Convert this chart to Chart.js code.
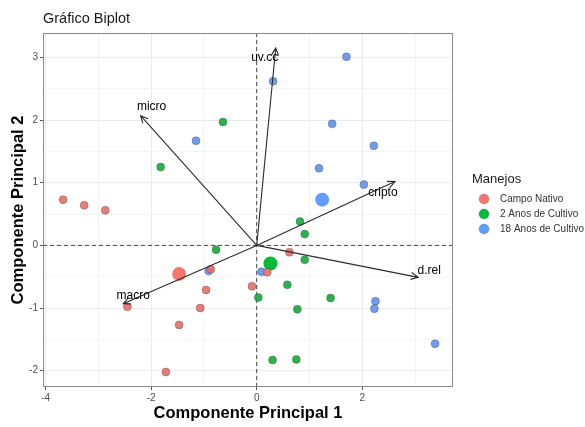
<!DOCTYPE html>
<html>
<head>
<meta charset="utf-8">
<script src="https://cdn.jsdelivr.net/npm/chart.js@4.4.1/dist/chart.umd.min.js"></script>
<style>
  html, body { margin: 0; padding: 0; background: #fff; }
  #wrap { width: 585px; height: 427px; }
</style>
</head>
<body>
<div id="wrap"><canvas id="biplot" width="585" height="427"></canvas></div>
<script>
// scores (PC1, PC2) per group
const campoX = [-3.67, -3.27, -2.87, -0.87, -0.96, -1.07, -1.47, -1.72, -2.45, -0.09, 0.62, 0.20];
const campoY = [0.73, 0.64, 0.56, -0.38, -0.71, -1.00, -1.27, -2.02, -0.98, -0.65, -0.11, -0.43];
const anos2X = [-0.64, -1.82, -0.77, 0.82, 0.91, 0.91, 0.58, 0.03, 1.40, 0.77, 0.30, 0.75];
const anos2Y = [1.97, 1.25, -0.07, 0.38, 0.18, -0.23, -0.63, -0.83, -0.84, -1.02, -1.83, -1.82];
const anos18X = [-1.15, 1.70, 0.31, 1.43, 2.22, 1.18, 2.03, -0.91, 0.09, 2.25, 2.23, 3.38];
const anos18Y = [1.67, 3.01, 2.62, 1.94, 1.59, 1.23, 0.97, -0.41, -0.42, -0.89, -1.01, -1.57];

// group centroids
const groups = ['Campo Nativo', '2 Anos de Cultivo', '18 Anos de Cultivo'];
const centroidX = [-1.47, 0.26, 1.24];
const centroidY = [-0.455, -0.29, 0.73];

// variable loadings (arrow tips)
const varNames = ['uv.cc', 'micro', 'cripto', 'd.rel', 'macro'];
const varX = [0.36, -2.20, 2.62, 3.06, -2.53];
const varY = [3.15, 2.07, 1.02, -0.51, -0.93];

const xTicks = [-4, -2, 0, 2];
const yTicks = [-2, -1, 0, 1, 2, 3];

const colors = ['#F8766D', '#00BA38', '#619CFF'];
const pointFill = ['rgba(230,110,104,0.9)', 'rgba(20,170,60,0.9)', 'rgba(95,145,235,0.9)'];
const font = '"Liberation Sans", Arial, sans-serif';

function toPoints(xs, ys) {
  return xs.map((x, i) => ({ x: x, y: ys[i] }));
}

const groupData = [toPoints(campoX, campoY), toPoints(anos2X, anos2Y), toPoints(anos18X, anos18Y)];

const datasets = [];
groupData.forEach((pts, g) => {
  datasets.push({
    label: groups[g],
    data: pts,
    backgroundColor: pointFill[g],
    borderColor: 'rgba(60,60,60,0.55)',
    borderWidth: 0.6,
    pointRadius: 4,
    pointHoverRadius: 4
  });
});
groups.forEach((name, g) => {
  datasets.push({
    label: name + ' (centroide)',
    data: [{ x: centroidX[g], y: centroidY[g] }],
    backgroundColor: colors[g],
    borderColor: colors[g],
    borderWidth: 0,
    pointRadius: 7,
    pointHoverRadius: 7
  });
});

// pixel offsets of the arrow labels from the tips
const labelOffset = [[-11, 10], [11, -9], [-12, 11], [11, -7], [10, -8]];

const biplotPlugin = {
  id: 'biplot',
  beforeDatasetsDraw(chart) {
    const { ctx, chartArea: a, scales: { x, y } } = chart;
    ctx.save();
    ctx.strokeStyle = '#444';
    ctx.lineWidth = 1;
    ctx.setLineDash([4, 3]);
    ctx.beginPath();
    ctx.moveTo(a.left, y.getPixelForValue(0));
    ctx.lineTo(a.right, y.getPixelForValue(0));
    ctx.moveTo(x.getPixelForValue(0), a.top);
    ctx.lineTo(x.getPixelForValue(0), a.bottom);
    ctx.stroke();
    ctx.restore();
  },
  afterDatasetsDraw(chart) {
    const { ctx, scales: { x, y } } = chart;
    const x0 = x.getPixelForValue(0), y0 = y.getPixelForValue(0);
    ctx.save();
    ctx.strokeStyle = '#2b2b2b';
    ctx.lineWidth = 1.1;
    varNames.forEach((name, i) => {
      const tx = x.getPixelForValue(varX[i]);
      const ty = y.getPixelForValue(varY[i]);
      const ang = Math.atan2(ty - y0, tx - x0);
      const h = 8;
      ctx.beginPath();
      ctx.moveTo(x0, y0);
      ctx.lineTo(tx, ty);
      ctx.moveTo(tx - h * Math.cos(ang - 0.45), ty - h * Math.sin(ang - 0.45));
      ctx.lineTo(tx, ty);
      ctx.lineTo(tx - h * Math.cos(ang + 0.45), ty - h * Math.sin(ang + 0.45));
      ctx.stroke();
      ctx.fillStyle = '#000';
      ctx.font = '12px ' + font;
      ctx.textAlign = 'center';
      ctx.textBaseline = 'middle';
      ctx.fillText(name, tx + labelOffset[i][0], ty + labelOffset[i][1]);
    });
    ctx.restore();
  },
  afterDraw(chart) {
    const { ctx, chartArea: a } = chart;
    ctx.save();
    ctx.strokeStyle = '#8a8a8a';
    ctx.lineWidth = 1;
    ctx.strokeRect(a.left + 0.5, a.top + 0.5, a.right - a.left - 1, a.bottom - a.top - 1);

    ctx.fillStyle = '#1a1a1a';
    ctx.font = '14.5px ' + font;
    ctx.textAlign = 'left';
    ctx.textBaseline = 'middle';
    ctx.fillText('Gráfico Biplot', a.left, 19);

    // legend
    ctx.font = '13px ' + font;
    ctx.fillText('Manejos', 472, 179);
    ctx.font = '10px ' + font;
    groups.forEach((name, g) => {
      const cy = 199 + g * 15;
      ctx.beginPath();
      ctx.arc(484, cy, 5, 0, Math.PI * 2);
      ctx.fillStyle = colors[g];
      ctx.fill();
      ctx.strokeStyle = 'rgba(60,60,60,0.35)';
      ctx.lineWidth = 0.6;
      ctx.stroke();
      ctx.fillStyle = '#333';
      ctx.fillText(name, 500, cy);
    });
    ctx.restore();
  }
};

const minorX = [-3, -1, 1, 3];
const minorY = [-1.5, -0.5, 0.5, 1.5, 2.5];

new Chart(document.getElementById('biplot'), {
  type: 'scatter',
  data: { datasets: datasets },
  plugins: [biplotPlugin],
  options: {
    responsive: false,
    animation: false,
    layout: { padding: { top: 33, right: 132, left: 0, bottom: 0 } },
    plugins: { legend: { display: false }, tooltip: { enabled: false } },
    scales: {
      x: {
        type: 'linear',
        min: -4.05,
        max: 3.72,
        afterBuildTicks: s => { s.ticks = xTicks.concat(minorX).sort((a, b) => a - b).map(v => ({ value: v })); },
        afterFit: s => { s.height = 40; },
        border: { display: false },
        grid: {
          color: c => (xTicks.includes(c.tick.value) ? '#ebebeb' : '#f4f4f4'),
          tickColor: c => (xTicks.includes(c.tick.value) ? '#555' : 'rgba(0,0,0,0)'),
          tickLength: 3
        },
        ticks: {
          color: '#4d4d4d',
          font: { family: font, size: 10 },
          padding: 2,
          maxRotation: 0,
          callback: v => (xTicks.includes(v) ? String(v) : '')
        },
        title: {
          display: true,
          text: 'Componente Principal 1',
          color: '#000',
          font: { family: font, size: 16.5, weight: 'bold' },
          padding: { top: 0, bottom: 4 }
        }
      },
      y: {
        type: 'linear',
        min: -2.26,
        max: 3.39,
        afterBuildTicks: s => { s.ticks = yTicks.concat(minorY).sort((a, b) => a - b).map(v => ({ value: v })); },
        afterFit: s => { s.width = 43; },
        border: { display: false },
        grid: {
          color: c => (yTicks.includes(c.tick.value) ? '#ebebeb' : '#f4f4f4'),
          tickColor: c => (yTicks.includes(c.tick.value) ? '#555' : 'rgba(0,0,0,0)'),
          tickLength: 3
        },
        ticks: {
          color: '#4d4d4d',
          font: { family: font, size: 10 },
          padding: 2,
          callback: v => (yTicks.includes(v) ? String(v) : '')
        },
        title: {
          display: true,
          text: 'Componente Principal 2',
          color: '#000',
          font: { family: font, size: 16.5, weight: 'bold' },
          padding: { top: 9, bottom: 0 }
        }
      }
    }
  }
});
</script>
</body>
</html>
